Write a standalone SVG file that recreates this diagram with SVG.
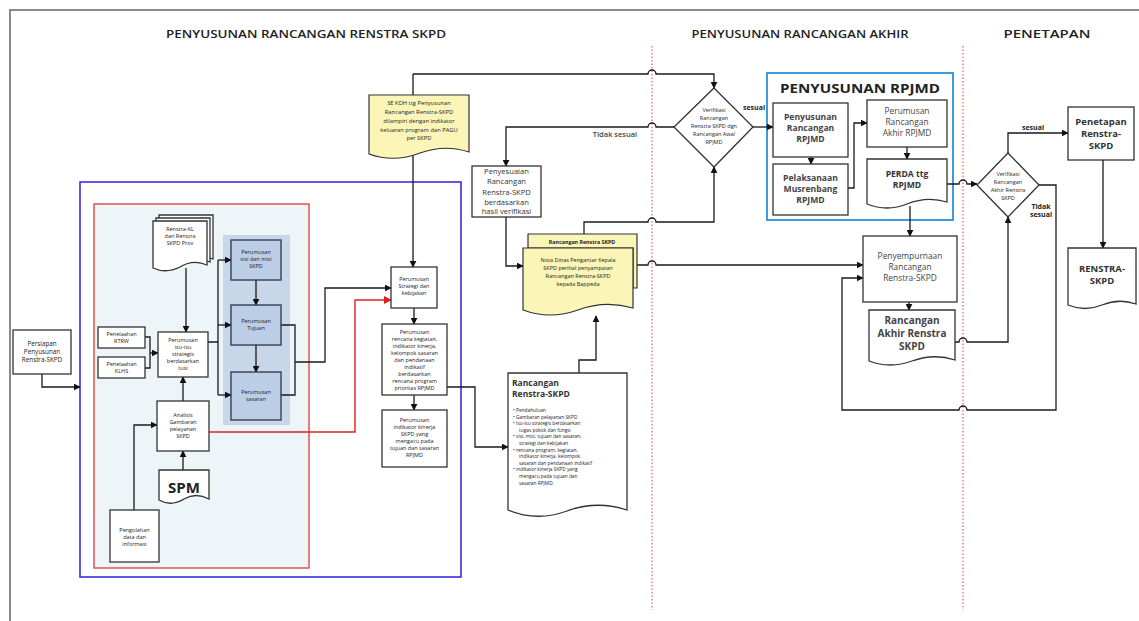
<svg xmlns="http://www.w3.org/2000/svg" width="1139" height="621" viewBox="0 0 1139 621">
<defs>
<marker id="ar" viewBox="0 0 10 10" refX="9" refY="5" markerWidth="7" markerHeight="7" markerUnits="userSpaceOnUse" orient="auto"><path d="M0,0 L10,5 L0,10 z" fill="#111"/></marker>
<marker id="arr" viewBox="0 0 10 10" refX="9" refY="5" markerWidth="8" markerHeight="8" markerUnits="userSpaceOnUse" orient="auto"><path d="M0,0 L10,5 L0,10 z" fill="#e02020"/></marker>
<style>
text{font-family:"Open Sans","Liberation Sans",sans-serif;fill:#222;text-anchor:middle}
.t{font-size:5.5px}
.m{font-size:8px;fill:#333}
.b{font-weight:bold}
.hd{font-size:11.5px;font-weight:600;fill:#222}
.bx{fill:#fff;stroke:#333;stroke-width:1.3}
.sb{fill:#bccde6;stroke:#2a3344;stroke-width:1.3}
.yl{fill:#fbf6b8;stroke:#333;stroke-width:1.2}
.ln{fill:none;stroke:#1a1a1a;stroke-width:1.3}
.ar{marker-end:url(#ar)}
.rd{fill:none;stroke:#e02020;stroke-width:1.4;marker-end:url(#arr)}
.dv{stroke:#c0392b;stroke-width:0.9;stroke-dasharray:1.5,2}
</style>
</defs>
<rect x="10" y="10" width="1140" height="620" fill="#fff" stroke="#8a8a8a" stroke-width="2"/>
<g id="headers">
<text class="hd" x="306" y="38" textLength="280" lengthAdjust="spacingAndGlyphs">PENYUSUNAN RANCANGAN RENSTRA SKPD</text>
<text class="hd" x="800" y="38" textLength="217" lengthAdjust="spacingAndGlyphs">PENYUSUNAN RANCANGAN AKHIR</text>
<text class="hd" x="1047" y="38" textLength="87" lengthAdjust="spacingAndGlyphs">PENETAPAN</text>
</g>
<line class="dv" x1="652" y1="46" x2="652" y2="610"/>
<line class="dv" x1="963" y1="46" x2="963" y2="610"/>
<g id="frames">
<rect x="80" y="182" width="381" height="395" fill="#fff" stroke="#3a2ee0" stroke-width="1.6"/>
<rect x="94" y="204" width="215" height="364" fill="#eef5f9" stroke="#e04848" stroke-width="1.4"/>
<rect x="223" y="235" width="67" height="190" fill="#c8d6ea"/>
<rect x="767" y="73" width="186" height="147" fill="#fff" stroke="#3d9be0" stroke-width="2"/>
<text class="b" x="860" y="93" style="font-size:13px;fill:#222" textLength="160" lengthAdjust="spacingAndGlyphs">PENYUSUNAN RPJMD</text>
</g>
<g id="connectors">
<path class="ln ar" d="M42,374 V387 H80"/>
<path class="ln ar" d="M186,268 V332"/>
<path class="ln" d="M145,337 H150 V368 H145"/>
<path class="ln ar" d="M150,353 H158"/>
<path class="ln ar" d="M183,401 V377"/>
<path class="ln ar" d="M183,470 V451"/>
<path class="ln ar" d="M134,510 V425 H157"/>
<path class="ln" d="M208,342 H218 M218,260 V395"/>
<path class="ln ar" d="M218,260 H231"/>
<path class="ln ar" d="M218,325 H231"/>
<path class="ln ar" d="M218,395 H231"/>
<path class="ln ar" d="M256,280 V305"/>
<path class="ln ar" d="M256,345 V372"/>
<path class="ln" d="M281,325 H295 V395 H281"/>
<path class="ln ar" d="M295,362 H325 V288 H391"/>
<path class="rd" d="M209,432 H355 V300 H391"/>
<path class="ln ar" d="M413,74 V267"/>
<path class="ln ar" d="M413,74 H648 a4,4 0 0 1 8,0 H714 V88"/>
<path class="ln ar" d="M414,308 V324"/>
<path class="ln ar" d="M414,395 V410"/>
<path class="ln ar" d="M447,387 H475 V447 H508"/>
<path class="ln ar" d="M579,373 V360 H596 V316"/>
<path class="ln ar" d="M674,127 H656 a4,4 0 0 0 -8,0 H506 V166"/>
<path class="ln ar" d="M506,217 V266 H523"/>
<path class="ln ar" d="M584,234 V222 H648 a4,4 0 0 1 8,0 H714 V167"/>
<path class="ln ar" d="M753,127 H773"/>
<path class="ln ar" d="M811,157 V164"/>
<path class="ln ar" d="M848,188 H854 V123 H867"/>
<path class="ln ar" d="M907,147 V159"/>
<path class="ln ar" d="M947,184 H959 a4,4 0 0 1 8,0 H977"/>
<path class="ln ar" d="M910,206 V236"/>
<path class="ln ar" d="M637,265 H648 a4,4 0 0 1 8,0 H863"/>
<path class="ln ar" d="M909,302 V310"/>
<path class="ln ar" d="M955,342 H959 a4,4 0 0 1 8,0 H1008 V217"/>
<path class="ln ar" d="M1008,153 V133 H1068"/>
<path class="ln ar" d="M1039,185 H1056 V410 H967 a4,4 0 0 0 -8,0 H842 V278 H863"/>
<path class="ln ar" d="M1103,160 V248"/>
</g>
<g id="labels">
<text class="b" x="754" y="110" style="font-size:7px">sesuai</text>
<text x="615" y="137" style="font-size:7.5px;fill:#444;font-weight:600">Tidak sesuai</text>
<text class="b" x="1033" y="130" style="font-size:7px">sesuai</text>
<text class="b" x="1041" y="209" style="font-size:7px">Tidak</text>
<text class="b" x="1041" y="217" style="font-size:7px">sesuai</text>
</g>
<g id="persiapan">
<rect class="bx" x="13" y="330" width="58" height="44"/>
<text class="t" style="font-size:6.3px"><tspan x="42" y="346">Persiapan</tspan><tspan x="42" y="354">Penyusunan</tspan><tspan x="42" y="362">Renstra-SKPD</tspan></text>
</g>
<g id="renstra-kl">
<path class="bx" d="M159,215 H213 V259 Q199,253 186,261 Q172,268 159,262 Z"/>
<path class="bx" d="M156,218 H210 V262 Q196,256 183,264 Q169,271 156,265 Z"/>
<path class="bx" d="M153,221 H207 V265 Q193,259 180,267 Q166,274 153,268 Z"/>
<text class="t"><tspan x="180" y="231">Renstra-KL</tspan><tspan x="180" y="238">dan Renstra</tspan><tspan x="180" y="245">SKPD Prov</tspan></text>
</g>
<g id="rtrw">
<rect class="bx" x="98" y="327" width="47" height="21"/>
<text class="t"><tspan x="121.5" y="336">Penelaahan</tspan><tspan x="121.5" y="343">RTRW</tspan></text>
</g>
<g id="klhs">
<rect class="bx" x="98" y="357" width="47" height="21"/>
<text class="t"><tspan x="121.5" y="366">Penelaahan</tspan><tspan x="121.5" y="373">KLHS</tspan></text>
</g>
<g id="isu">
<rect class="bx" x="158" y="332" width="50" height="45"/>
<text class="t"><tspan x="183" y="342">Perumusan</tspan><tspan x="183" y="349">isu-isu</tspan><tspan x="183" y="356">strategis</tspan><tspan x="183" y="363">berdasarkan</tspan><tspan x="183" y="370">tusi</tspan></text>
</g>
<g id="analisis">
<rect class="bx" x="157" y="401" width="52" height="50"/>
<text class="t"><tspan x="183" y="417">Analisis</tspan><tspan x="183" y="424">Gambaran</tspan><tspan x="183" y="431">pelayanan</tspan><tspan x="183" y="438">SKPD</tspan></text>
</g>
<g id="spm">
<path class="bx" d="M159,470 H209 V499 Q196,492 184,499 Q171,507 159,500 Z"/>
<text class="b" x="184" y="493" style="font-size:15px">SPM</text>
</g>
<g id="pengolahan">
<rect class="bx" x="110" y="510" width="49" height="52"/>
<text class="t"><tspan x="134.5" y="532">Pengolahan</tspan><tspan x="134.5" y="539">data dan</tspan><tspan x="134.5" y="546">informasi</tspan></text>
</g>
<g id="visi">
<rect class="sb" x="231" y="240" width="50" height="40"/>
<text class="t"><tspan x="256" y="254">Perumusan</tspan><tspan x="256" y="261">visi dan misi</tspan><tspan x="256" y="268">SKPD</tspan></text>
</g>
<g id="tujuan">
<rect class="sb" x="231" y="305" width="50" height="40"/>
<text class="t"><tspan x="256" y="323">Perumusan</tspan><tspan x="256" y="330">Tujuan</tspan></text>
</g>
<g id="sasaran">
<rect class="sb" x="231" y="372" width="50" height="48"/>
<text class="t"><tspan x="256" y="394">Perumusan</tspan><tspan x="256" y="401">sasaran</tspan></text>
</g>
<g id="se-kdh">
<path class="yl" d="M369,95 H469 V152 Q445,144 420,153 Q394,163 369,154 Z"/>
<text class="t" style="font-size:5.8px"><tspan x="419" y="105">SE KDH  ttg Penyusunan</tspan><tspan x="419" y="114">Rancangan Renstra-SKPD</tspan><tspan x="419" y="123">dilampiri dengan indikator</tspan><tspan x="419" y="132">keluaran program dan PAGU</tspan><tspan x="419" y="140">per SKPD</tspan></text>
</g>
<g id="strategi">
<rect class="bx" x="391" y="267" width="46" height="41"/>
<text class="t"><tspan x="414" y="281">Perumusan</tspan><tspan x="414" y="288">Strategi dan</tspan><tspan x="414" y="295">kebijakan</tspan></text>
</g>
<g id="rencana">
<rect class="bx" x="382" y="324" width="65" height="71"/>
<text class="t"><tspan x="414.5" y="334">Perumusan</tspan><tspan x="414.5" y="341">rencana kegiatan,</tspan><tspan x="414.5" y="348">indikator kinerja,</tspan><tspan x="414.5" y="355">kelompok sasaran</tspan><tspan x="414.5" y="362">dan pendanaan</tspan><tspan x="414.5" y="369">indikatif</tspan><tspan x="414.5" y="376">berdasarkan</tspan><tspan x="414.5" y="383">rencana program</tspan><tspan x="414.5" y="390">prioritas RPJMD</tspan></text>
</g>
<g id="indikator">
<rect class="bx" x="382" y="410" width="65" height="57"/>
<text class="t"><tspan x="414.5" y="422">Perumusan</tspan><tspan x="414.5" y="429">indikator kinerja</tspan><tspan x="414.5" y="436">SKPD yang</tspan><tspan x="414.5" y="443">mengacu pada</tspan><tspan x="414.5" y="450">tujuan dan sasaran</tspan><tspan x="414.5" y="457">RPJMD</tspan></text>
</g>
<g id="penyesuaian">
<rect class="bx" x="472" y="166" width="69" height="51"/>
<text class="m" style="font-size:7.6px"><tspan x="506.5" y="174">Penyesuaian</tspan><tspan x="506.5" y="184">Rancangan</tspan><tspan x="506.5" y="195">Renstra-SKPD</tspan><tspan x="506.5" y="205">berdasarkan</tspan><tspan x="506.5" y="214">hasil verifikasi</tspan></text>
</g>
<g id="nota">
<path class="yl" d="M528,234 H637 V288 H633 V248 H528 Z"/>
<path class="yl" d="M523,248 H633 V308 Q605,300 578,310 Q550,320 523,310 Z"/>
<text class="t b" x="582" y="244" style="font-size:5.3px">Rancangan Renstra SKPD</text>
<text class="t"><tspan x="578" y="262">Nota Dinas Pengantar Kepala</tspan><tspan x="578" y="270">SKPD perihal penyampaian</tspan><tspan x="578" y="278">Rancangan Renstra-SKPD</tspan><tspan x="578" y="286">kepada Bappeda</tspan></text>
</g>
<g id="rancangan-renstra">
<path class="bx" d="M508,373 H627 V510 Q597,500 567,511 Q537,522 508,510 Z"/>
<text class="b" style="font-size:8.5px;text-anchor:start;fill:#333"><tspan x="512" y="386">Rancangan</tspan><tspan x="512" y="397">Renstra-SKPD</tspan></text>
<text class="t" style="text-anchor:start;font-size:4.8px"><tspan x="513" y="412">•  Pendahuluan</tspan><tspan x="513" y="418.6">•  Gambaran pelayanan SKPD</tspan><tspan x="513" y="425.2">•  Isu-isu strategis  berdasarkan</tspan><tspan x="519" y="431.8">tugas pokok dan fungsi</tspan><tspan x="513" y="438.4">•  visi, misi, tujuan dan sasaran,</tspan><tspan x="519" y="445">strategi dan kebijakan</tspan><tspan x="513" y="451.6">•  rencana program, kegiatan,</tspan><tspan x="519" y="458.2">indikator kinerja, kelompok</tspan><tspan x="519" y="464.8">sasaran dan pendanaan indikatif</tspan><tspan x="513" y="471.4">•  indikator kinerja SKPD yang</tspan><tspan x="519" y="478">mengacu pada tujuan dan</tspan><tspan x="519" y="484.6">sasaran  RPJMD.</tspan></text>
</g>
<g id="verifikasi1">
<path class="bx" d="M714,88 L753,127 L714,167 L674,127 Z"/>
<text class="t"><tspan x="714" y="112">Verifikasi</tspan><tspan x="714" y="120">Rancangan</tspan><tspan x="714" y="128">Renstra SKPD dgn</tspan><tspan x="714" y="136">Rancangan Awal</tspan><tspan x="714" y="144">RPJMD</tspan></text>
</g>
<g id="penyusunan-rpjmd">
<rect class="bx" x="773" y="103" width="75" height="54"/>
<text class="m b" style="font-size:8.6px;fill:#444"><tspan x="810.5" y="120">Penyusunan</tspan><tspan x="810.5" y="131">Rancangan</tspan><tspan x="810.5" y="142">RPJMD</tspan></text>
</g>
<g id="musrenbang">
<rect class="bx" x="773" y="164" width="75" height="51"/>
<text class="m b" style="font-size:8.6px;fill:#444"><tspan x="810.5" y="181">Pelaksanaan</tspan><tspan x="810.5" y="192">Musrenbang</tspan><tspan x="810.5" y="203">RPJMD</tspan></text>
</g>
<g id="akhir-rpjmd">
<rect class="bx" x="867" y="100" width="80" height="47"/>
<text class="m" style="font-size:8.4px;fill:#444"><tspan x="907" y="114">Perumusan</tspan><tspan x="907" y="125">Rancangan</tspan><tspan x="907" y="136">Akhir RPJMD</tspan></text>
</g>
<g id="perda">
<path class="bx" d="M867,159 H947 V202 Q927,196 907,204 Q887,212 867,204 Z"/>
<text class="m b" style="font-size:8.6px;fill:#333"><tspan x="907" y="177">PERDA ttg</tspan><tspan x="907" y="188">RPJMD</tspan></text>
</g>
<g id="penyempurnaan">
<rect class="bx" x="863" y="236" width="94" height="66"/>
<text class="m" style="font-size:8.4px;fill:#444"><tspan x="910" y="259">Penyempurnaan</tspan><tspan x="910" y="270">Rancangan</tspan><tspan x="910" y="281">Renstra-SKPD</tspan></text>
</g>
<g id="rancangan-akhir">
<path class="bx" d="M869,310 H955 V360 Q934,353 912,361 Q890,369 869,361 Z"/>
<text class="b" style="font-size:10px;fill:#444"><tspan x="912" y="324">Rancangan</tspan><tspan x="912" y="337">Akhir Renstra</tspan><tspan x="912" y="350">SKPD</tspan></text>
</g>
<g id="verifikasi2">
<path class="bx" d="M1008,153 L1039,185 L1008,217 L977,185 Z"/>
<text class="t"><tspan x="1008" y="176">Verifikasi</tspan><tspan x="1008" y="184">Rancangan</tspan><tspan x="1008" y="192">Akhir Renstra</tspan><tspan x="1008" y="200">SKPD</tspan></text>
</g>
<g id="penetapan">
<rect class="bx" x="1068" y="107" width="66" height="53"/>
<text class="b" style="font-size:9.5px;fill:#333"><tspan x="1101" y="125">Penetapan</tspan><tspan x="1101" y="137">Renstra-</tspan><tspan x="1101" y="149">SKPD</tspan></text>
</g>
<g id="renstra-skpd">
<path class="bx" d="M1068,248 H1136 V304 Q1119,298 1102,305 Q1085,312 1068,305 Z"/>
<text class="b" style="font-size:9.5px;fill:#333"><tspan x="1102" y="272">RENSTRA-</tspan><tspan x="1102" y="284">SKPD</tspan></text>
</g>
</svg>
